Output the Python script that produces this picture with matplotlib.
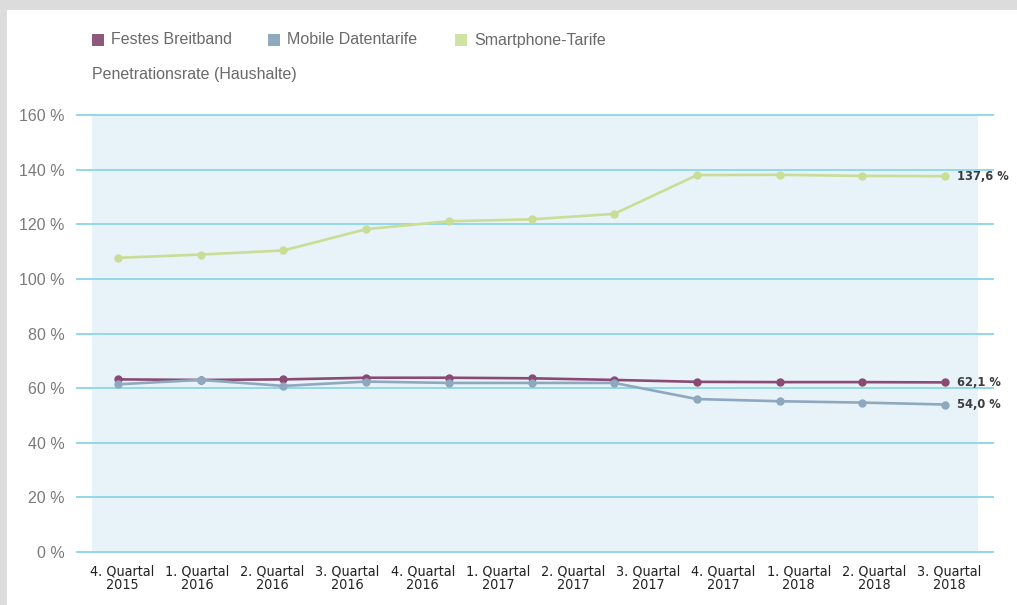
import numpy as np
import matplotlib
matplotlib.use("Agg")
import matplotlib.pyplot as plt
import matplotlib.font_manager as fm
from matplotlib.patches import Rectangle

# Quarter labels on the x axis
quarters = ["4. Quartal\n2015", "1. Quartal\n2016", "2. Quartal\n2016", "3. Quartal\n2016",
            "4. Quartal\n2016", "1. Quartal\n2017", "2. Quartal\n2017", "3. Quartal\n2017",
            "4. Quartal\n2017", "1. Quartal\n2018", "2. Quartal\n2018", "3. Quartal\n2018"]

# Penetration rates (households), in percent
festes_breitband = [63.2, 63.0, 63.2, 63.8, 63.8, 63.6, 63.0, 62.3, 62.2, 62.2, 62.1]
mobile_daten = [61.4, 63.0, 60.8, 62.4, 61.9, 61.9, 61.9, 56.0, 55.2, 54.7, 54.0]
smartphone = [107.7, 108.9, 110.4, 118.2, 121.1, 121.8, 123.8, 138.0, 138.1, 137.7, 137.6]

series_names = ["Festes Breitband", "Mobile Datentarife", "Smartphone-Tarife"]
line_colors = ["#8a4a72", "#8ea9bf", "#cadd97"]
legend_colors = ["#8e5a7c", "#8fa9bf", "#d0e2a4"]

y_ticks = [0, 20, 40, 60, 80, 100, 120, 140, 160]


def narrow_font(size, bold=False):
    """Return a condensed/narrow face if one is installed, else a smaller Roboto."""
    cands = []
    for f in fm.fontManager.ttflist:
        narrow = ("Narrow" in f.name or "Condensed" in f.name
                  or str(f.stretch) in ("condensed", "semi-condensed", "extra-condensed"))
        if not narrow or f.style != "normal":
            continue
        w = f.weight if isinstance(f.weight, int) else fm.weight_dict.get(f.weight, 400)
        cands.append((abs(w - (700 if bold else 400)), f.fname))
    if cands:
        cands.sort()
        return fm.FontProperties(fname=cands[0][1], size=size)
    return fm.FontProperties(family="Roboto", size=size * 0.88,
                             weight="bold" if bold else "medium")


W, H = 1017, 605
fig = plt.figure(figsize=(W / 100, H / 100), dpi=100, facecolor="#dcdcdc")

# white card on the grey page
fig.patches.append(Rectangle((7 / W, 0), 1 - 7 / W, 1 - 10 / H, transform=fig.transFigure,
                             facecolor="white", edgecolor="none", zorder=-5))

ax = fig.add_axes([77 / W, 1 - 552 / H, (993 - 77) / W, (552 - 115) / H])
ax.set_facecolor("none")
n = len(smartphone)
x = np.arange(n)
ax.set_xlim(-0.496, 10.58)
ax.set_ylim(0, 160)

# pale shaded plotting band
ax.axvspan(-0.314, 10.40, ymin=0, ymax=1, color="#e7f3f8", zorder=0, lw=0)
for yv in y_ticks:
    ax.axhline(yv, color="#93d8e9", lw=1.4, zorder=1, clip_on=False)

for vals, col in [(smartphone, line_colors[2]), (festes_breitband, line_colors[0]),
                  (mobile_daten, line_colors[1])]:
    ax.plot(x, vals, color=col, lw=1.9, marker="o", ms=5, zorder=3,
            solid_capstyle="round")

for spine in ax.spines.values():
    spine.set_visible(False)

ax.set_yticks(y_ticks)
ax.set_yticklabels([f"{v} %" for v in y_ticks], color="#7a7a7a", fontsize=11.5,
                   family="Liberation Sans")
ax.tick_params(axis="y", length=0, pad=9)

tick_font = narrow_font(10.3)
tick_pos = 0.048 + np.arange(len(quarters)) * (10 / 11)
ax.set_xticks(tick_pos)
ax.set_xticklabels(quarters, color="#222222", linespacing=0.95, fontproperties=tick_font)
ax.tick_params(axis="x", length=0, pad=9)

# end-of-line value labels
value_font = narrow_font(9.2, bold=True)
for vals in (smartphone, festes_breitband, mobile_daten):
    ax.annotate(f"{vals[-1]:.1f} %".replace(".", ","), (x[-1], vals[-1]),
                xytext=(8.5, 0), textcoords="offset points", va="center", ha="left",
                color="#3d3d3d", zorder=5, fontproperties=value_font)

# legend row
leg_x = [92, 268, 455]
for px, name, col in zip(leg_x, series_names, legend_colors):
    fig.patches.append(Rectangle((px / W, 1 - 46 / H), 12 / W, 12 / H,
                                 transform=fig.transFigure, facecolor=col,
                                 edgecolor="none"))
    fig.text((px + 19) / W, 1 - 40 / H, name, fontsize=11.5, color="#6a6a6a",
             va="center", ha="left", family="Liberation Sans")

fig.text(92 / W, 1 - 74 / H, "Penetrationsrate (Haushalte)", fontsize=11.5,
         color="#6a6a6a", va="center", ha="left", family="Liberation Sans")

fig.savefig("out.png", dpi=100, facecolor=fig.get_facecolor())
